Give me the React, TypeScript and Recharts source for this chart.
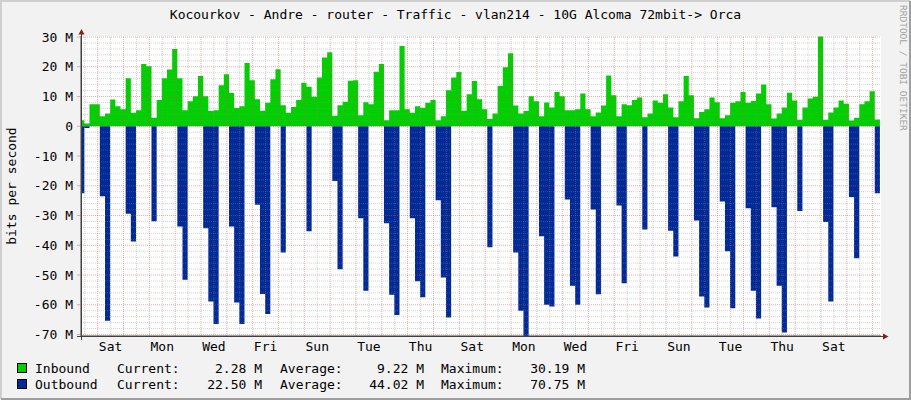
import { ComposedChart, Area, XAxis, YAxis, ReferenceLine } from "recharts";

const W = 911;
const H = 400;
const PLOT = { left: 81, top: 36, width: 800, height: 300 };
const FONT = '"DejaVu Sans Mono", "Liberation Mono", monospace';

const BACK = "#F2F2F2";
const IN_COLOR = "#00CF00";
const OUT_COLOR = "#002A97";
const GRID = "rgba(143,143,143,0.38)";
const MGRID = "rgba(222,79,79,0.48)";
const ARROW = "#801F1F";
const AXIS = "#404040";

const TITLE = "Kocourkov - Andre - router - Traffic - vlan214 - 10G Alcoma 72mbit-> Orca";

// x is hours from the first Saturday 00:00; one sample covers 4.8 h
const STEP_H = 4.8;
const START_H = -17.2;
const X_DOMAIN = [-15.5, 727.8];
const Y_DOMAIN = [-70.5, 30.34];

// Mbit/s per sample
const INBOUND = [
  2.0, 0.9, 7.4, 7.4, 3.4, 4.3, 9.0, 6.7, 5.7, 16.1,
  4.5, 5.4, 20.9, 20.2, 2.9, 8.8, 16.1, 19.1, 26.0, 16.1,
  5.4, 8.4, 10.1, 16.9, 10.1, 5.1, 5.4, 13.8, 17.5, 11.2,
  6.1, 6.7, 21.3, 15.5, 9.1, 5.2, 7.9, 15.8, 19.2, 7.1,
  4.5, 6.5, 8.8, 14.6, 13.3, 9.9, 16.4, 23.1, 24.9, 3.5,
  7.1, 8.2, 15.3, 15.5, 3.7, 8.1, 7.4, 18.3, 20.9, 2.0,
  5.4, 5.4, 27.0, 5.7, 4.5, 6.7, 6.2, 7.9, 8.8, 2.0,
  3.4, 12.1, 16.4, 18.2, 5.2, 10.8, 15.2, 9.1, 5.7, 2.4,
  4.3, 13.5, 19.8, 24.5, 7.0, 4.3, 5.1, 10.1, 8.4, 3.4,
  8.0, 6.3, 11.5, 10.1, 5.4, 5.4, 5.7, 11.0, 5.7, 3.4,
  4.6, 7.0, 17.1, 10.4, 3.4, 7.4, 7.1, 8.8, 9.7, 3.0,
  4.3, 8.7, 7.9, 10.8, 6.3, 3.0, 8.4, 16.9, 10.4, 2.7,
  4.8, 5.7, 9.7, 8.1, 2.7, 3.7, 7.9, 8.4, 11.5, 7.9,
  8.5, 11.0, 14.0, 7.4, 2.6, 4.3, 6.3, 11.3, 8.7, 2.2,
  6.3, 9.3, 9.9, 30.19, 2.2, 4.6, 6.3, 8.7, 7.6, 1.9,
  2.9, 7.4, 8.4, 11.8, 2.28,
];

const OUTBOUND = [
  22.5, 0.6, 0, 0, 23.5, 65.4, 0, 0, 0, 29.4,
  38.7, 0, 0, 0, 31.9, 0, 0, 0, 0, 33.7,
  51.6, 0, 0, 0, 34.3, 58.9, 66.5, 0, 0, 33.7,
  59.2, 66.5, 0, 0, 26.4, 56.4, 63.1, 0, 0, 42.4,
  0, 0, 0, 0, 35.3, 0, 0, 0, 0, 18.4,
  48.1, 0, 0, 0, 30.9, 55.3, 0, 0, 0, 32.6,
  56.6, 63.4, 0, 0, 30.9, 52.1, 57.5, 0, 0, 24.9,
  50.8, 64.3, 0, 0, 0, 0, 0, 0, 0, 40.7,
  0, 0, 0, 0, 42.4, 62.0, 70.75, 0, 0, 37.0,
  60.0, 60.6, 0, 0, 24.6, 53.6, 60.0, 0, 0, 28.0,
  56.5, 0, 0, 0, 26.6, 52.8, 0, 0, 0, 34.7,
  0, 0, 0, 0, 35.1, 43.8, 0, 0, 0, 31.7,
  57.2, 60.9, 0, 0, 25.3, 42.0, 61.2, 0, 0, 27.6,
  55.3, 64.6, 0, 0, 27.2, 53.6, 69.3, 0, 0, 28.5,
  0, 0, 0, 0, 32.2, 58.9, 0, 0, 0, 23.8,
  44.4, 0, 0, 0, 22.5,
];

const DAY_TICKS = [12, 60, 108, 156, 204, 252, 300, 348, 396, 444, 492, 540, 588, 636, 684];
const DAY_LABELS = ["Sat", "Mon", "Wed", "Fri", "Sun", "Tue", "Thu", "Sat", "Mon", "Wed", "Fri", "Sun", "Tue", "Thu", "Sat"];
const Y_TICKS = [-70, -60, -50, -40, -30, -20, -10, 0, 10, 20, 30];

const MIDNIGHTS = Array.from({ length: 31 }, (_, i) => i * 24);
const NOONS = Array.from({ length: 31 }, (_, i) => i * 24 - 12);
const Y_MINOR = Array.from({ length: 51 }, (_, i) => -70 + i * 2).filter((v) => v % 10 !== 0);

const LEGEND = [
  { name: "Inbound", color: IN_COLOR, current: "2.28 M", average: "9.22 M", maximum: "30.19 M" },
  { name: "Outbound", color: OUT_COLOR, current: "22.50 M", average: "44.02 M", maximum: "70.75 M" },
];

const rows = INBOUND.map((v, i) => ({ t: START_H + i * STEP_H, inbound: v, outbound: -OUTBOUND[i] }));
rows.push({
  t: START_H + INBOUND.length * STEP_H,
  inbound: INBOUND[INBOUND.length - 1],
  outbound: -OUTBOUND[OUTBOUND.length - 1],
});

const tickStyle = { fill: "#000", fontSize: 13, fontFamily: FONT };

export default function App() {
  const right = PLOT.left + PLOT.width;
  const bottom = PLOT.top + PLOT.height;
  return (
    <div style={{ position: "absolute", left: 0, top: 0, width: W, height: H, background: BACK, overflow: "hidden" }}>
      <div style={{ position: "absolute", left: PLOT.left, top: PLOT.top, width: PLOT.width, height: PLOT.height, background: "#fff" }} />
      <div style={{ position: "absolute", left: 0, top: 0 }}>
        <ComposedChart
          width={W}
          height={H}
          data={rows}
          margin={{ top: PLOT.top, right: W - right, bottom: H - bottom - 20, left: 0 }}
        >
          <XAxis
            dataKey="t"
            type="number"
            domain={X_DOMAIN}
            allowDataOverflow
            ticks={DAY_TICKS}
            interval={0}
            tickFormatter={(_v: number, i: number) => DAY_LABELS[i]}
            height={20}
            tickSize={3}
            tickMargin={3}
            tickLine={false}
            axisLine={{ stroke: AXIS }}
            tick={tickStyle}
          />
          <YAxis
            type="number"
            domain={Y_DOMAIN}
            allowDataOverflow
            ticks={Y_TICKS}
            interval={0}
            width={PLOT.left}
            tickSize={4}
            tickMargin={4}
            tickLine={{ stroke: MGRID }}
            axisLine={{ stroke: AXIS }}
            tickFormatter={(v: number) => (v === 0 ? "0" : `${v} M`)}
            tick={tickStyle}
          />
          <Area
            type="stepAfter"
            dataKey="inbound"
            baseValue={0}
            stroke="none"
            fill={IN_COLOR}
            fillOpacity={1}
            dot={false}
            activeDot={false}
            isAnimationActive={false}
          />
          <Area
            type="stepAfter"
            dataKey="outbound"
            baseValue={0}
            stroke="none"
            fill={OUT_COLOR}
            fillOpacity={1}
            dot={false}
            activeDot={false}
            isAnimationActive={false}
          />
          {Y_MINOR.map((v) => (
            <ReferenceLine key={`ym${v}`} y={v} stroke={GRID} strokeDasharray="1 1" />
          ))}
          {NOONS.map((v) => (
            <ReferenceLine key={`xn${v}`} x={v} stroke={GRID} strokeDasharray="1 1" ifOverflow="hidden" />
          ))}
          {Y_TICKS.map((v) => (
            <ReferenceLine key={`yM${v}`} y={v} stroke={MGRID} strokeDasharray="1 1" />
          ))}
          {MIDNIGHTS.map((v) => (
            <ReferenceLine key={`xM${v}`} x={v} stroke={MGRID} strokeDasharray="1 1" ifOverflow="hidden" />
          ))}
        </ComposedChart>
      </div>
      <svg
        width={W}
        height={H}
        style={{ position: "absolute", left: 0, top: 0, pointerEvents: "none" }}
        fontFamily={FONT}
      >
        <text x={W / 2} y={18.5} fontSize={13} textAnchor="middle" fill="#000">
          {TITLE}
        </text>
        <text
          x={0}
          y={0}
          fontSize={13}
          textAnchor="middle"
          fill="#000"
          transform={`translate(16, ${PLOT.top + PLOT.height / 2}) rotate(-90)`}
        >
          bits per second
        </text>
        <text
          x={0}
          y={0}
          fontSize={9.5}
          fill="#A0A0A0"
          transform={`translate(899.5, 5) rotate(90)`}
        >
          RRDTOOL / TOBI OETIKER
        </text>
        {/* axis extensions and arrows */}
        <line x1={PLOT.left + 0.5} y1={bottom + 4} x2={PLOT.left + 0.5} y2={PLOT.top - 2} stroke={AXIS} />
        <line x1={PLOT.left - 4} y1={bottom + 0.5} x2={right + 3} y2={bottom + 0.5} stroke={AXIS} />
        <polygon
          points={`${PLOT.left - 2.5},${PLOT.top - 1.5} ${PLOT.left + 3.5},${PLOT.top - 1.5} ${PLOT.left + 0.5},${PLOT.top - 7}`}
          fill={ARROW}
        />
        <polygon
          points={`${right + 2},${bottom - 2.5} ${right + 2},${bottom + 3.5} ${right + 7.5},${bottom + 0.5}`}
          fill={ARROW}
        />
        {LEGEND.map((row, i) => {
          const base = 373 + i * 16;
          return (
            <g key={row.name} fontSize={13} fill="#000">
              <rect x={17.5} y={base - 9.5} width={9} height={9} fill={row.color} stroke="#000" strokeWidth={1} />
              <text x={35} y={base}>{row.name}</text>
              <text x={117} y={base}>Current:</text>
              <text x={262} y={base} textAnchor="end">{row.current}</text>
              <text x={280} y={base}>Average:</text>
              <text x={424} y={base} textAnchor="end">{row.average}</text>
              <text x={441} y={base}>Maximum:</text>
              <text x={585} y={base} textAnchor="end">{row.maximum}</text>
            </g>
          );
        })}
        {/* 3D frame */}
        <polyline points={`1,${H - 1} 1,1 ${W - 1},1`} fill="none" stroke="#CFCFCF" strokeWidth={2} />
        <polyline points={`1,${H - 1} ${W - 1},${H - 1} ${W - 1},1`} fill="none" stroke="#9E9E9E" strokeWidth={2} />
      </svg>
    </div>
  );
}
